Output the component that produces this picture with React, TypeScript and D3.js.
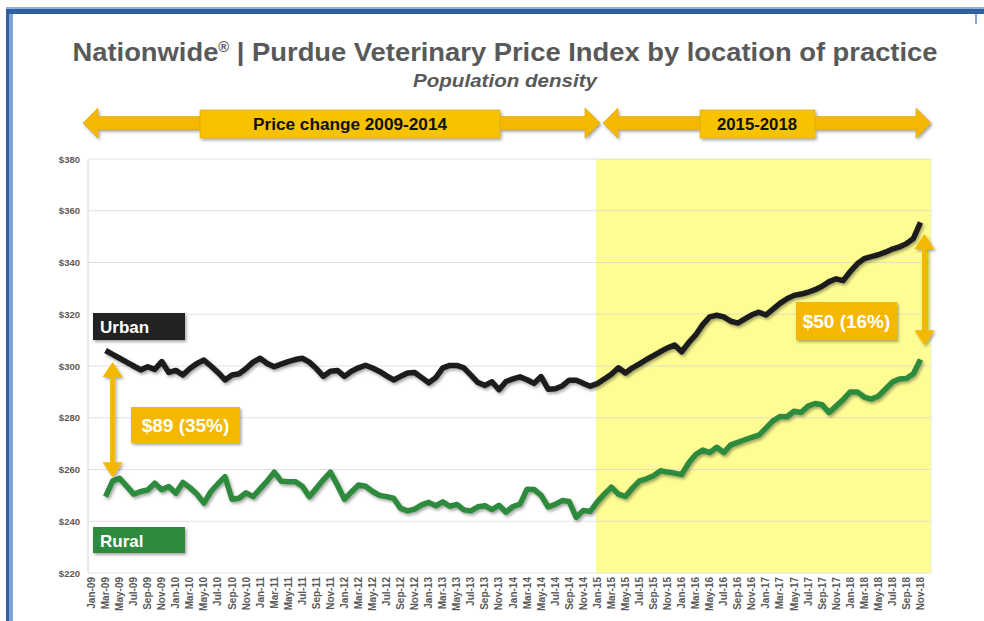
import * as d3 from "d3";
import { useEffect, useRef } from "react";

const W = 984;
const H = 621;

// categories: Jan-09 .. Dec-18
const years = ["09", "10", "11", "12", "13", "14", "15", "16", "17", "18"];
const monthNames = ["Jan", "Feb", "Mar", "Apr", "May", "Jun", "Jul", "Aug", "Sep", "Oct", "Nov", "Dec"];
const months = years.flatMap((y) => monthNames.map((m) => `${m}-${y}`));
const tickLabels = months.filter((_, i) => i % 2 === 0);
const seriesMonths = months.slice(2, 119); // Mar-09 .. Nov-18

const urban = [
  306, 304.5, 303, 301.5, 300, 298.5, 299.7, 298.7, 301.7, 297.5,
  298.3, 296.5, 299, 301, 302.3, 300, 297.5, 294.6, 296.5, 297, 299, 301.5,
  303, 301, 299.7, 300.7, 301.7, 302.5, 303, 301.5, 299, 296, 298, 298.3,
  296, 298, 299.3, 300.3, 299.2, 297.9, 296.2, 294.6, 296, 297.3, 297.5, 295.5,
  293.5, 295.5, 299.3, 300.2, 300.2, 299.3, 296.5, 293.6, 292.5, 293.9, 290.8, 294,
  295, 295.8, 294.7, 293.3, 295.9, 291, 291.2, 292.3, 294.5, 294.5, 293.3, 292.2,
  293.2, 295, 296.8, 299.3, 297.3, 299.3, 300.8, 302.5, 304, 305.6, 307, 308.1,
  305.5, 309, 312, 316, 319, 319.6, 319, 317.3, 316.6, 318.2, 319.8, 320.8,
  319.7, 322, 324.2, 326, 327.3, 327.8, 328.5, 329.5, 330.8, 332.6, 333.7, 333,
  336.5, 339.5, 341.5, 342.3, 343, 344, 345.2, 346, 347.3, 349.3, 355.5,
];

const rural = [
  249.5, 255.5, 256.6, 253.6, 250.5, 251.5, 252.1, 254.7, 252.2, 253.4,
  250.8, 255, 253, 250.5, 247, 251.5, 254.5, 257.2, 248.5, 248.9, 251, 249.5,
  252.5, 255.5, 259, 255.5, 255.3, 255.3, 253.5, 249.5, 252.7, 256, 259, 254,
  248.5, 251.3, 254, 253.5, 251.5, 250, 249.5, 248.9, 245, 244, 244.7, 246.3,
  247.3, 246, 247.5, 245.8, 246.5, 244.4, 244, 245.6, 246, 244.5, 246.2, 243.5,
  245.7, 246.6, 252.4, 252.3, 250, 245.5, 246.5, 248, 247.6, 241.5, 244.2, 243.8,
  247.5, 250.5, 253.2, 250.5, 249.6, 252.8, 255.6, 256.4, 257.6, 259.5, 259, 258.6,
  258, 262.5, 265.8, 267.5, 266.5, 268.6, 266.5, 269.5, 270.5, 271.5, 272.4, 273.3,
  276, 278.8, 280.5, 280.4, 282.5, 282, 284.5, 285.5, 285, 282, 284.5, 287,
  290, 290, 288, 287.2, 288.3, 291, 293.8, 295, 295.2, 297, 302.5,
];

const yTicks = [220, 240, 260, 280, 300, 320, 340, 360, 380];

const GOLD = "#f5b800";
const GREY = "#595959";
const GREEN = "#2d8a3c";
const FONT = "'Liberation Sans', Arial, sans-serif";
const NARROW = "'Liberation Sans Narrow', 'Liberation Sans', Arial, sans-serif";

// double headed arrow outline
const hArrow = (x1, x2, cy, sh, hh, hl) =>
  `M${x1},${cy} L${x1 + hl},${cy - hh} L${x1 + hl},${cy - sh} L${x2 - hl},${cy - sh} L${x2 - hl},${cy - hh} L${x2},${cy} ` +
  `L${x2 - hl},${cy + hh} L${x2 - hl},${cy + sh} L${x1 + hl},${cy + sh} L${x1 + hl},${cy + hh} Z`;
const vArrow = (cx, y1, y2, sw, hw, hl) =>
  `M${cx},${y1} L${cx + hw},${y1 + hl} L${cx + sw},${y1 + hl} L${cx + sw},${y2 - hl} L${cx + hw},${y2 - hl} L${cx},${y2} ` +
  `L${cx - hw},${y2 - hl} L${cx - sw},${y2 - hl} L${cx - sw},${y1 + hl} L${cx - hw},${y1 + hl} Z`;

export default function App() {
  const ref = useRef(null);

  useEffect(() => {
    const svg = d3.select(ref.current);
    svg.selectAll("*").remove();

    const defs = svg.append("defs");
    defs.append("filter").attr("id", "sh").attr("x", "-10%").attr("y", "-20%").attr("width", "130%").attr("height", "160%")
      .append("feDropShadow").attr("dx", 1.5).attr("dy", 2).attr("stdDeviation", 1.5)
      .attr("flood-color", "#000").attr("flood-opacity", 0.35);

    svg.append("rect").attr("width", W).attr("height", H).attr("fill", "#fff");

    // slide frame
    svg.append("rect").attr("x", 6).attr("y", 7).attr("width", W - 6).attr("height", 2).attr("fill", "#8fb0dd");
    svg.append("rect").attr("x", 6).attr("y", 9).attr("width", W - 6).attr("height", 5).attr("fill", "#2f5f9f");
    svg.append("rect").attr("x", 6).attr("y", 9).attr("width", 3).attr("height", H).attr("fill", "#2f5f9f");
    svg.append("rect").attr("x", 9).attr("y", 14).attr("width", 4).attr("height", H).attr("fill", "#7ea6da");
    svg.append("rect").attr("x", 975).attr("y", 14).attr("width", 2).attr("height", 10).attr("fill", "#7ea6da");

    // titles
    const title = svg.append("text").attr("x", 505).attr("y", 61).attr("text-anchor", "middle")
      .attr("font-family", NARROW).attr("font-weight", "bold").attr("font-size", 26).attr("fill", GREY)
      .attr("textLength", 865).attr("lengthAdjust", "spacingAndGlyphs");
    title.append("tspan").text("Nationwide");
    title.append("tspan").attr("font-size", 14).attr("dy", -9).text("®");
    title.append("tspan").attr("dy", 9).text(" | Purdue Veterinary Price Index by location of practice");

    svg.append("text").attr("x", 505).attr("y", 87).attr("text-anchor", "middle")
      .attr("font-family", NARROW).attr("font-weight", "bold").attr("font-style", "italic")
      .attr("font-size", 17.5).attr("fill", GREY).attr("textLength", 184).attr("lengthAdjust", "spacingAndGlyphs")
      .text("Population density");

    const margin = { top: 159, right: 53, bottom: 48, left: 88 };
    const x = d3.scaleBand().domain(months).range([margin.left, W - margin.right]);
    const xc = (m) => x(m) + x.bandwidth() / 2;
    const y = d3.scaleLinear().domain([220, 380]).range([H - margin.bottom, margin.top]);

    // period arrows
    const top = svg.append("g").attr("filter", "url(#sh)");
    top.append("path").attr("d", hArrow(83, 600, 123, 6.5, 15, 15)).attr("fill", GOLD).attr("stroke", "#d99f00").attr("stroke-width", 0.6);
    top.append("path").attr("d", hArrow(603, 931, 123, 6.5, 15, 15)).attr("fill", GOLD).attr("stroke", "#d99f00").attr("stroke-width", 0.6);
    top.append("rect").attr("x", 200).attr("y", 110).attr("width", 300).attr("height", 28).attr("fill", "#f7c200").attr("stroke", "#d99f00").attr("stroke-width", 0.6);
    top.append("rect").attr("x", 700).attr("y", 110).attr("width", 115).attr("height", 28).attr("fill", "#f7c200").attr("stroke", "#d99f00").attr("stroke-width", 0.6);
    svg.append("text").attr("x", 350).attr("y", 130).attr("text-anchor", "middle").attr("font-family", NARROW)
      .attr("font-weight", "bold").attr("font-size", 16).attr("fill", "#111")
      .attr("textLength", 194).attr("lengthAdjust", "spacingAndGlyphs").text("Price change 2009-2014");
    svg.append("text").attr("x", 757).attr("y", 130).attr("text-anchor", "middle").attr("font-family", NARROW)
      .attr("font-weight", "bold").attr("font-size", 16).attr("fill", "#111")
      .attr("textLength", 80).attr("lengthAdjust", "spacingAndGlyphs").text("2015-2018");

    // highlighted 2015-2018 period
    svg.append("rect").attr("x", x("Jan-15") + 2).attr("y", y(380))
      .attr("width", W - margin.right - x("Jan-15") - 2).attr("height", y(220) - y(380)).attr("fill", "#fefd93");

    // grid
    svg.append("g").selectAll("line").data(yTicks).join("line")
      .attr("x1", margin.left).attr("x2", W - margin.right)
      .attr("y1", (d) => y(d)).attr("y2", (d) => y(d))
      .attr("stroke", "#d6d6d6").attr("stroke-opacity", 0.7).attr("stroke-width", 1);
    svg.append("line").attr("x1", margin.left).attr("x2", margin.left).attr("y1", y(380)).attr("y2", y(220)).attr("stroke", "#d6d6d6");
    svg.append("line").attr("x1", W - margin.right).attr("x2", W - margin.right).attr("y1", y(380)).attr("y2", y(220)).attr("stroke", "#e8e8e8");

    svg.append("g").selectAll("text").data(yTicks).join("text")
      .attr("x", 80).attr("y", (d) => y(d) + 3.5).attr("text-anchor", "end")
      .attr("font-family", FONT).attr("font-weight", "bold").attr("font-size", 9.5).attr("fill", GREY)
      .text((d) => `$${d}`);

    svg.append("g").selectAll("text").data(tickLabels).join("text")
      .attr("transform", (d) => `translate(${xc(d) + 3.5},${H - margin.bottom + 4}) rotate(-90)`)
      .attr("text-anchor", "end")
      .attr("font-family", FONT).attr("font-weight", "bold").attr("font-size", 10).attr("fill", GREY)
      .text((d) => d);

    // series
    const line = d3.line().x((d) => xc(d[0])).y((d) => y(d[1]));
    const lines = svg.append("g").attr("filter", "url(#sh)");
    lines.append("path").datum(seriesMonths.map((m, i) => [m, rural[i]])).attr("d", line)
      .attr("fill", "none").attr("stroke", GREEN).attr("stroke-width", 5.5).attr("stroke-linejoin", "round");
    lines.append("path").datum(seriesMonths.map((m, i) => [m, urban[i]])).attr("d", line)
      .attr("fill", "none").attr("stroke", "#1d1d1d").attr("stroke-width", 5.5).attr("stroke-linejoin", "round");

    // series labels
    const lab = svg.append("g").attr("filter", "url(#sh)");
    lab.append("rect").attr("x", 93).attr("y", 313).attr("width", 92).attr("height", 27).attr("fill", "#222");
    lab.append("rect").attr("x", 93).attr("y", 527).attr("width", 92).attr("height", 26).attr("fill", GREEN);
    svg.append("text").attr("x", 100).attr("y", 333).attr("font-family", FONT).attr("font-weight", "bold")
      .attr("font-size", 17).attr("fill", "#fff").text("Urban");
    svg.append("text").attr("x", 100).attr("y", 547).attr("font-family", FONT).attr("font-weight", "bold")
      .attr("font-size", 17).attr("fill", "#fff").text("Rural");

    // gap annotations
    const ann = svg.append("g").attr("filter", "url(#sh)");
    ann.append("path").attr("d", vArrow(xc("Apr-09"), y(301.5), y(257), 2.5, 10, 15)).attr("fill", GOLD);
    ann.append("path").attr("d", vArrow(xc("Nov-18") + 4, y(351), y(308), 2.5, 10, 15)).attr("fill", GOLD);
    ann.append("rect").attr("x", 131).attr("y", 407).attr("width", 109).attr("height", 36).attr("fill", GOLD);
    ann.append("rect").attr("x", 796).attr("y", 302).attr("width", 101).attr("height", 38).attr("fill", GOLD);
    svg.append("text").attr("x", 185.5).attr("y", 432).attr("text-anchor", "middle").attr("font-family", FONT)
      .attr("font-weight", "bold").attr("font-size", 19).attr("fill", "#fff").text("$89 (35%)");
    svg.append("text").attr("x", 846.5).attr("y", 328).attr("text-anchor", "middle").attr("font-family", FONT)
      .attr("font-weight", "bold").attr("font-size", 19).attr("fill", "#fff").text("$50 (16%)");
  }, []);

  return (
    <svg ref={ref} width={W} height={H} style={{ position: "absolute", left: 0, top: 0, display: "block" }} />
  );
}
